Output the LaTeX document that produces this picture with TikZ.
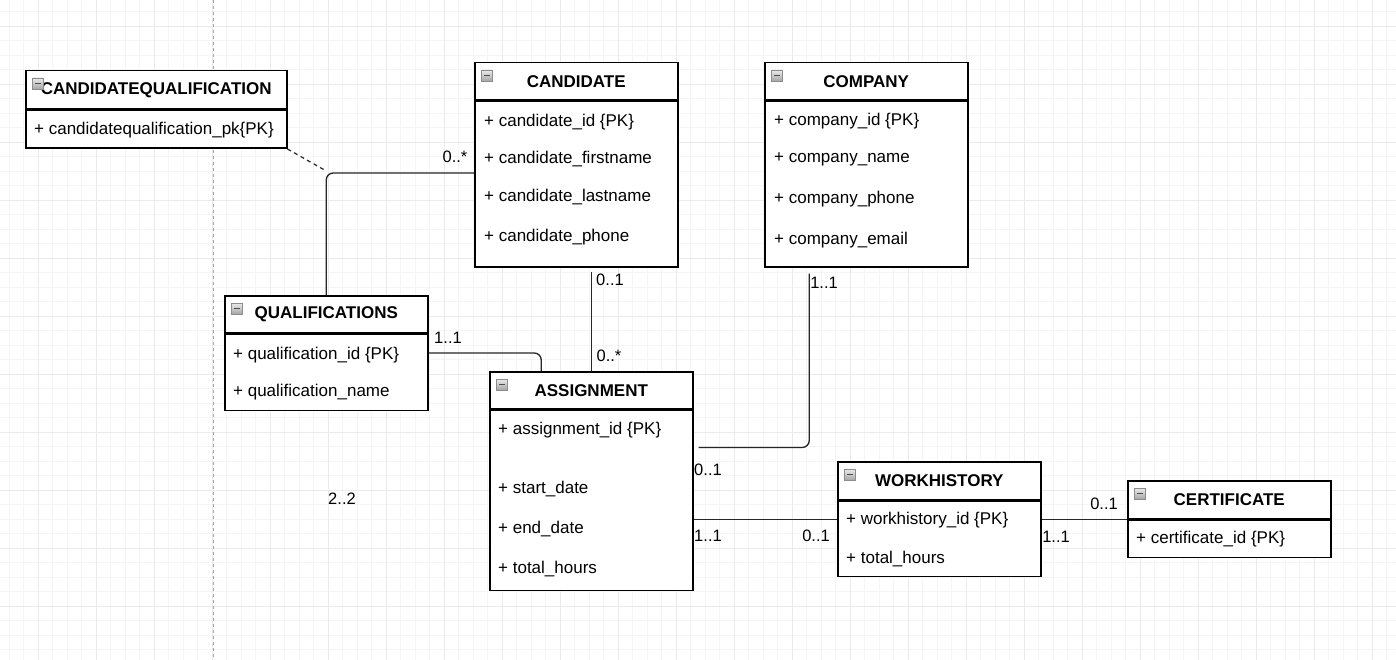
\documentclass[tikz,border=0pt]{standalone}
\usepackage{fontspec}
\setmainfont{Liberation Sans}
\usetikzlibrary{positioning,calc}

\tikzset{
  gminor/.style={draw=black!4, line width=0.8pt},
  gmajor/.style={draw=black!8, line width=0.8pt},
  hdr/.style={draw=black, line width=1.5pt, fill=white, minimum width=203pt, minimum height=37pt,
              anchor=north west, inner sep=0pt, font=\bfseries\fontsize{17}{20}\selectfont},
  bdy/.style={draw=black, line width=1.5pt, fill=white, minimum width=203pt, inner sep=0pt},
  attr/.style={anchor=west, inner sep=0pt, font=\fontsize{17}{20}\selectfont},
  mult/.style={inner sep=0pt, font=\fontsize{16.5}{19}\selectfont},
  rel/.style={draw=black!85, line width=1.3pt, rounded corners=7pt},
  icon/.style={rectangle, minimum size=11pt, inner sep=0pt, draw=black!45,
               top color=black!8, bottom color=black!35,
               path picture={\draw[line width=1.6pt, black!70]
                 ([xshift=2.5pt]path picture bounding box.west) -- ([xshift=-2.5pt]path picture bounding box.east);}}
}

\begin{document}
\begin{tikzpicture}[x=1pt, y=-1pt]
  \fill[white] (0,0) rectangle (1396,660);
  \useasboundingbox (0,0) rectangle (1396,660);
  \clip (0,0) rectangle (1396,660);

  % grid
  \foreach \i in {-2,...,94} {\draw[gminor] ({38+14.5*\i},0) -- ({38+14.5*\i},660);}
  \foreach \i in {-1,...,44} {\draw[gminor] (0,{26+14.5*\i}) -- (1396,{26+14.5*\i});}
  \foreach \i in {0,...,23} {\draw[gmajor] ({38+58*\i},0) -- ({38+58*\i},660);}
  \foreach \i in {0,...,11} {\draw[gmajor] (0,{26+58*\i}) -- (1396,{26+58*\i});}
  \draw[black!35, line width=0.8pt, dash pattern=on 3pt off 3pt] (213,0) -- (213,660);

  % tables
  \node[hdr, minimum width=261pt, minimum height=38pt] (cqh) at (25,70) {CANDIDATEQUALIFICATION};
  \node[bdy, minimum width=261pt, minimum height=38pt, below=0pt of cqh] (cqb) {};
  \node[hdr, minimum height=37.5pt] (candh) at (474,62) {CANDIDATE};
  \node[bdy, minimum height=165pt, below=0pt of candh] (candb) {};
  \node[hdr, minimum height=37.5pt] (comph) at (764,62) {COMPANY};
  \node[bdy, minimum height=165pt, below=0pt of comph] (compb) {};
  \node[hdr] (qualh) at (224,295) {QUALIFICATIONS};
  \node[bdy, minimum height=76pt, below=0pt of qualh] (qualb) {};
  \node[hdr] (asgh) at (489,371) {ASSIGNMENT};
  \node[bdy, minimum height=180pt, below=0pt of asgh] (asgb) {};
  \node[hdr, minimum height=38pt] (whh) at (837,461) {WORKHISTORY};
  \node[bdy, minimum height=75pt, below=0pt of whh] (whb) {};
  \node[hdr, minimum height=38pt] (certh) at (1127,480) {CERTIFICATE};
  \node[bdy, minimum height=37pt, below=0pt of certh] (certb) {};

  \foreach \tb in {cqh,candh,comph,qualh,asgh,whh,certh}
    \node[icon] (\tb-i) at ([xshift=13pt,yshift=-13.5pt]\tb.north west) {};

  % attributes
  \node[attr] (cq-a1) at (34,130) {+ candidatequalification\_pk\{PK\}};
  \node[attr] (cand-a1) at (484,122) {+ candidate\_id \{PK\}};
  \node[attr] (cand-a2) at (484,159) {+ candidate\_firstname};
  \node[attr] (cand-a3) at (484,197) {+ candidate\_lastname};
  \node[attr] (cand-a4) at (484,237) {+ candidate\_phone};
  \node[attr] (comp-a1) at (774,121) {+ company\_id \{PK\}};
  \node[attr] (comp-a2) at (774,159) {+ company\_name};
  \node[attr] (comp-a3) at (774,199) {+ company\_phone};
  \node[attr] (comp-a4) at (774,240) {+ company\_email};
  \node[attr] (qual-a1) at (233,355) {+ qualification\_id \{PK\}};
  \node[attr] (qual-a2) at (233,392) {+ qualification\_name};
  \node[attr] (asg-a1) at (498,430) {+ assignment\_id \{PK\}};
  \node[attr] (asg-a2) at (498,489) {+ start\_date};
  \node[attr] (asg-a3) at (498,529) {+ end\_date};
  \node[attr] (asg-a4) at (498,569) {+ total\_hours};
  \node[attr] (wh-a1) at (846,520) {+ workhistory\_id \{PK\}};
  \node[attr] (wh-a2) at (846,559) {+ total\_hours};
  \node[attr] (cert-a1) at (1136,539) {+ certificate\_id \{PK\}};

  % relations
  \coordinate (candq) at ([yshift=-72pt]candb.north west);
  \draw[rel] (candq) -| (qualh.north);
  \draw[black!85, line width=1.2pt, dash pattern=on 4pt off 3.5pt] (cqb.south east) -- ([yshift=2pt]qualh.north |- candq);
  \draw[rel] (asgh.north) -- ([yshift=-4pt]asgh.north |- candb.south);
  \draw[rel] ([yshift=2pt]qualb.east |- qual-a1) -| ([xshift=-50pt]asgh.north);
  \draw[rel] ([shift={(-57pt,-6pt)}]compb.south) |- ([shift={(5pt,-38pt)}]asgb.north east);
  \draw[rel] (asgb.east |- certh.south) -- (whb.west |- certh.south);
  \draw[rel] (whb.east |- certh.south) -- (certh.south west);

  % multiplicities
  \node[mult] (m-cand-q) at (455,157) {0..*};
  \node[mult] (m-cand-a) at (610,280) {0..1};
  \node[mult] (m-asg-c) at (609,356) {0..*};
  \node[mult] (m-qual-a) at (448,338) {1..1};
  \node[mult] (m-comp-a) at (824,283) {1..1};
  \node[mult] (m-asg-co) at (708,470) {0..1};
  \node[mult] (m-asg-w) at (708,536) {1..1};
  \node[mult] (m-wh-a) at (816,536) {0..1};
  \node[mult] (m-wh-c) at (1056,537) {1..1};
  \node[mult] (m-cert-w) at (1104,504) {0..1};
  \node[mult] (m-free) at (342,499) {2..2};
\end{tikzpicture}
\end{document}
